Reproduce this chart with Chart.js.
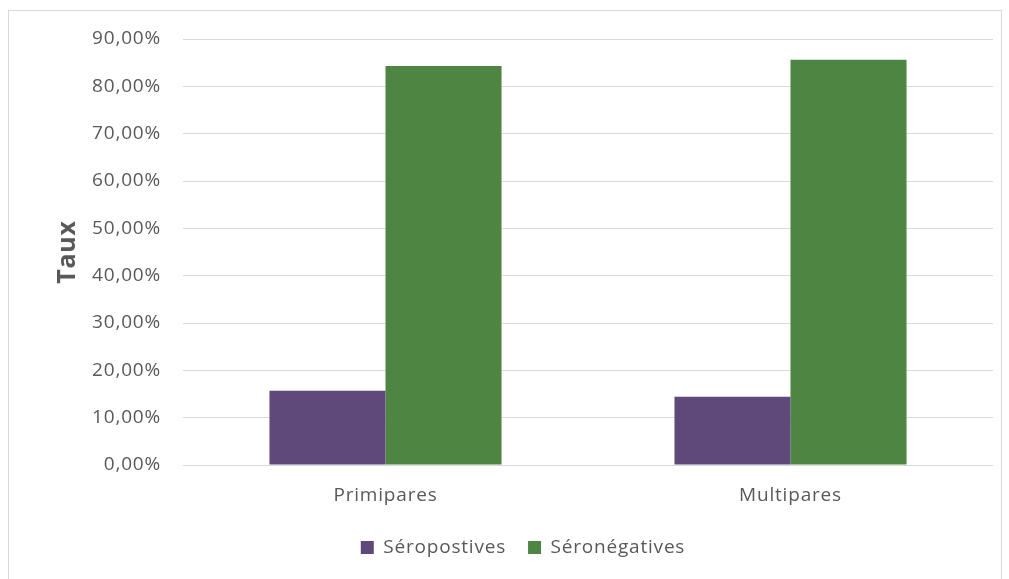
<!DOCTYPE html>
<html>
<head>
<meta charset="utf-8">
<script src="https://cdn.jsdelivr.net/npm/chart.js@4"></script>
<style>
  html, body { margin: 0; padding: 0; background: #fff; }
  #wrap { position: absolute; left: 0; top: 0; width: 1009px; height: 579px; }
  #frame { position: absolute; left: 8px; top: 10px; width: 992px; height: 600px; border: 1px solid #d9d9d9; }
</style>
</head>
<body>
<div id="frame"></div>
<div id="wrap"><canvas id="chart" width="1009" height="579"></canvas></div>
<script>
const categories = ['Primipares', 'Multipares'];
const seropositives = [15.7, 14.4];
const seronegatives = [84.3, 85.6];
const seriesNames = ['Séropostives', 'Séronégatives'];
const yTicks = [0, 10, 20, 30, 40, 50, 60, 70, 80, 90];

const textColor = '#595959';
const font = '"Open Sans", Lato, sans-serif';
const spacing = '0.8px';

function pct(v) {
  return v.toFixed(2).replace('.', ',') + '%';
}

// a bit of letter spacing, the original text is spread out
const spread = {
  id: 'spread',
  beforeUpdate: c => { c.ctx.letterSpacing = spacing; },
  beforeLayout: c => { c.ctx.letterSpacing = spacing; },
  beforeDraw: c => { c.ctx.letterSpacing = spacing; }
};

const ctx = document.getElementById('chart');

new Chart(ctx, {
  type: 'bar',
  plugins: [spread],
  data: {
    labels: categories,
    datasets: [{
      label: seriesNames[0],
      data: seropositives,
      backgroundColor: '#5F497A'
    }, {
      label: seriesNames[1],
      data: seronegatives,
      backgroundColor: '#4E8542'
    }]
  },
  options: {
    responsive: false,
    animation: false,
    layout: { padding: { left: 53, right: 16, top: 39, bottom: 12 } },
    datasets: {
      bar: { categoryPercentage: 0.573, barPercentage: 1.0 }
    },
    plugins: {
      tooltip: { enabled: false },
      legend: {
        position: 'bottom',
        labels: {
          color: textColor,
          font: { family: font, size: 19 },
          usePointStyle: true,
          pointStyle: 'rect',
          boxWidth: 13,
          boxHeight: 13,
          padding: 22
        }
      }
    },
    scales: {
      x: {
        grid: { display: false, drawTicks: false },
        border: { display: false },
        ticks: { color: textColor, font: { family: font, size: 19 }, padding: 19 },
        afterFit: s => { s.height = 51; }
      },
      y: {
        min: 0,
        max: 90,
        afterBuildTicks: s => { s.ticks = yTicks.map(v => ({ value: v })); },
        grid: { color: '#d9d9d9', lineWidth: 1, drawTicks: false },
        border: { display: false },
        ticks: {
          color: textColor,
          font: { family: font, size: 19 },
          padding: 22,
          callback: v => pct(v)
        },
        title: {
          display: true,
          text: 'Taux',
          color: textColor,
          font: { family: font, size: 25, weight: 'bold' },
          padding: { top: 0, bottom: 0 }
        },
        afterFit: s => { s.width = 130; }
      }
    }
  }
});
</script>
</body>
</html>
